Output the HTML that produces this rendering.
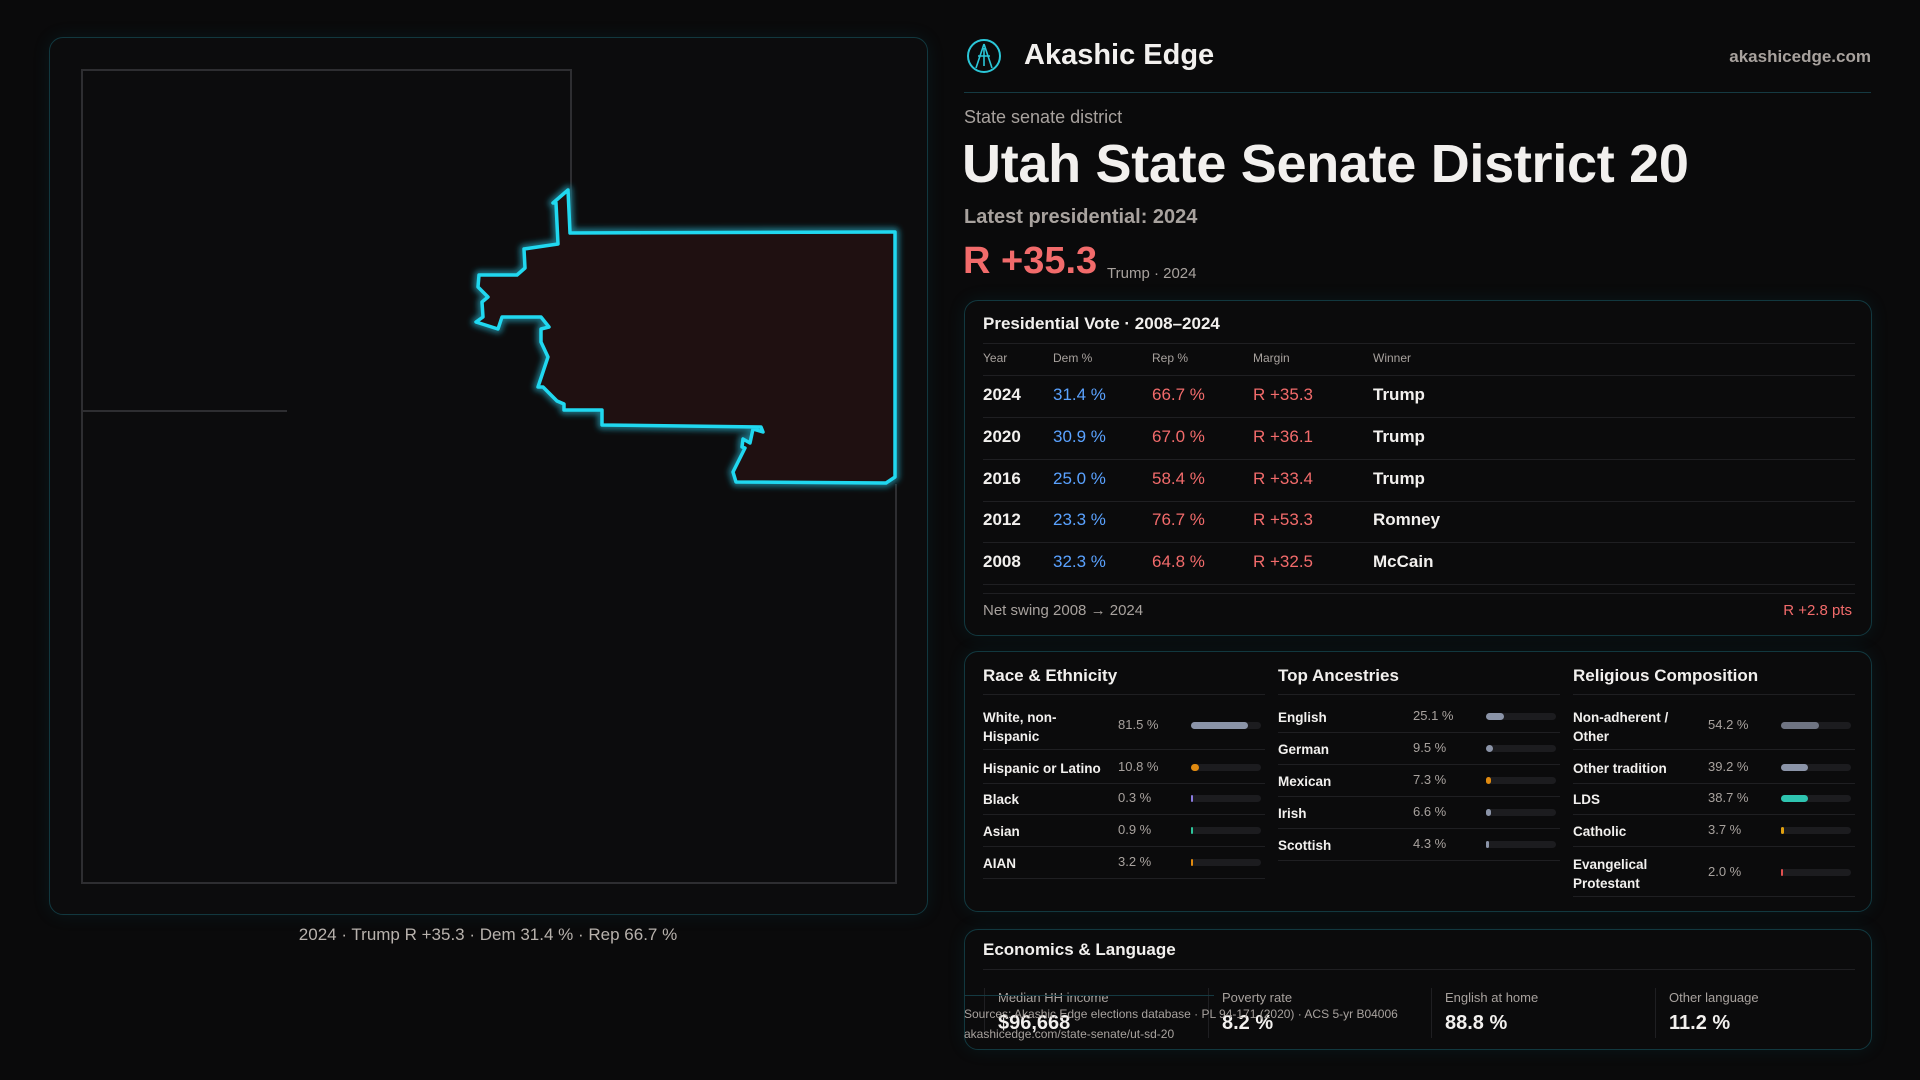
<!DOCTYPE html>
<html><head><meta charset="utf-8">
<style>
*{box-sizing:border-box;margin:0;padding:0}
body{width:1920px;height:1080px;background:#0a0a0b;font-family:"Liberation Sans",sans-serif;color:#f2f0ee;position:relative;overflow:hidden}
.abs{position:absolute;white-space:nowrap}
.card{position:absolute;border:1px solid #12383f;border-radius:14px;background:#0b0b0c;box-shadow:0 0 18px rgba(20,120,140,0.12)}
.muted{color:#a8a29e}
.blue{color:#5aa2ff}.red{color:#f26b6b}
.hr{position:absolute;height:1px;background:#1f1f22}
.bar-bg{position:absolute;height:7px;border-radius:4px;background:#1c1c1f}
.bar{position:absolute;height:7px;border-radius:4px;left:0;top:0}
</style></head><body>
<div class="card" style="left:49px;top:37px;width:879px;height:878px;background:#0c0c0d"></div>
<svg class="abs" style="left:0;top:0" width="960" height="960" viewBox="0 0 960 960">
<g stroke="#2e2e31" stroke-width="2" fill="none">
<polyline points="571,232 571,70 82,70 82,883 896,883 896,484"/>
<line x1="82" y1="411" x2="287" y2="411"/>
</g>
<defs><filter id="gl" x="-10%" y="-10%" width="120%" height="120%"><feGaussianBlur stdDeviation="3"/></filter></defs>
<polygon points="568,190 553,203 556,203 558,244 524,249 525,268 517,275 479,275 478,287 488,297 482,302 483,317 476,322 498,329 502,317 541,317 549,327 541,329 541,342 548,357 538,387 543,387 557,401 564,404 564,410 602,410 602,425 761,427 763,432 753,429 750,443 743,439 742,447 745,448 733,472 736,482 886,483 895,477 895,232 570,233" fill="#1f1011" stroke="#1a6f80" stroke-width="9" stroke-linejoin="round" filter="url(#gl)"/>
<polygon points="568,190 553,203 556,203 558,244 524,249 525,268 517,275 479,275 478,287 488,297 482,302 483,317 476,322 498,329 502,317 541,317 549,327 541,329 541,342 548,357 538,387 543,387 557,401 564,404 564,410 602,410 602,425 761,427 763,432 753,429 750,443 743,439 742,447 745,448 733,472 736,482 886,483 895,477 895,232 570,233" fill="#1f1011" stroke="#20d8f0" stroke-width="3.5" stroke-linejoin="round"/>
</svg>
<div class="abs muted" style="left:0;width:976px;text-align:center;top:925px;font-size:17px;color:#b8b2ad">2024 · Trump R +35.3 · Dem 31.4 % · Rep 66.7 %</div>

<svg class="abs" style="left:966px;top:38px" width="36" height="36" viewBox="0 0 36 36"><circle cx="18" cy="18" r="16" fill="none" stroke="#2bc7d8" stroke-width="2"/><path d="M18 6 L10 30 M18 6 L26 30 M12 18 H24 M18 10 V28" stroke="#2bc7d8" stroke-width="1.6" fill="none"/></svg>
<div class="abs" style="left:1024px;top:39px;font-size:29px;font-weight:bold">Akashic Edge</div>
<div class="abs muted" style="right:49px;top:47px;font-size:17px;font-weight:bold">akashicedge.com</div>
<div class="hr" style="left:964px;width:907px;top:92px;background:#153a42"></div>
<div class="abs muted" style="left:964px;top:107px;font-size:18px">State senate district</div>
<div class="abs" style="left:962px;top:133px;font-size:54px;font-weight:bold;letter-spacing:-0.3px">Utah State Senate District 20</div>
<div class="abs muted" style="left:964px;top:206px;font-size:20px;font-weight:bold">Latest presidential: 2024</div>
<div class="abs red" style="left:963px;top:240px;font-size:38px;font-weight:bold">R +35.3</div>
<div class="abs muted" style="left:1107px;top:265px;font-size:15px">Trump · 2024</div>

<div class="card" style="left:964px;top:300px;width:908px;height:336px"></div>
<div class="abs" style="left:983px;top:314px;font-size:17px;font-weight:bold">Presidential Vote · 2008–2024</div>
<div class="hr" style="left:983px;width:872px;top:343px"></div>
<div id="pres"></div>
<div class="abs muted" style="left:983px;top:602px;font-size:15px">Net swing 2008 → 2024</div>
<div class="abs red" style="right:68px;top:602px;font-size:15px">R +2.8 pts</div>

<div class="card" style="left:964px;top:651px;width:908px;height:261px"></div>
<div id="demo"></div>

<div class="card" style="left:964px;top:929px;width:908px;height:121px"></div>
<div class="abs" style="left:983px;top:940px;font-size:17px;font-weight:bold">Economics &amp; Language</div>
<div class="hr" style="left:983px;width:872px;top:969px"></div>
<div id="econ"></div>
<div class="hr" style="left:964px;width:250px;top:995px;background:#153a42"></div>
<div class="abs muted" style="left:964px;top:1007px;font-size:12px">Sources: Akashic Edge elections database · PL 94-171 (2020) · ACS 5-yr B04006</div>
<div class="abs muted" style="left:964px;top:1027px;font-size:12px">akashicedge.com/state-senate/ut-sd-20</div>

<script>
const years=["2024","2020","2016","2012","2008"];
const demPct=[31.4,30.9,25.0,23.3,32.3];
const repPct=[66.7,67.0,58.4,76.7,64.8];
const margins=[35.3,36.1,33.4,53.3,32.5];
const winners=["Trump","Trump","Trump","Romney","McCain"];
const raceLabels=["White, non-Hispanic","Hispanic or Latino","Black","Asian","AIAN"];
const raceValues=[81.5,10.8,0.3,0.9,3.2];
const ancLabels=["English","German","Mexican","Irish","Scottish"];
const ancValues=[25.1,9.5,7.3,6.6,4.3];
const relLabels=["Non-adherent / Other","Other tradition","LDS","Catholic","Evangelical Protestant"];
const relValues=[54.2,39.2,38.7,3.7,2.0];
const econLabels=["Median HH income","Poverty rate","English at home","Other language"];
const econValues=["$96,668","8.2 %","88.8 %","11.2 %"];

function mk(parent,cls,style,text){const d=document.createElement('div');d.className=cls;d.style.cssText=style;if(text!==undefined)d.textContent=text;parent.appendChild(d);return d;}
const pres=document.getElementById('pres');
const hx=[983,1053,1152,1253,1373];
["Year","Dem %","Rep %","Margin","Winner"].forEach((h,i)=>{
  const e=mk(pres,'abs muted','left:'+hx[i]+'px;top:351px;font-size:12px',h);
  
  
});
const hl=mk(pres,'hr','left:983px;width:872px;top:375px');


years.forEach((y,i)=>{
  const top=385+i*41.8;
  const vals=[y,demPct[i].toFixed(1)+' %',repPct[i].toFixed(1)+' %','R +'+margins[i].toFixed(1),winners[i]];
  const cls=['','blue','red','red',''];
  vals.forEach((v,j)=>{
    const e=mk(pres,'abs '+cls[j],'left:'+hx[j]+'px;top:'+top+'px;font-size:17px;'+(j==0||j==4?'font-weight:bold':''),v);
    
    
  });
  const l=mk(pres,'hr','left:983px;width:872px;top:'+(top+32)+'px');
  
  
});
const l2=mk(pres,'hr','left:983px;width:872px;top:593px');



const demo=document.getElementById('demo');
const cols=[
 {t:"Race & Ethnicity",x:983,labels:raceLabels,vals:raceValues,colors:["#8b94a8","#e08a10","#8a7be0","#2ec49a","#e08a10"],tops:[725,767,798,830,862],two:[true,false,false,false,false]},
 {t:"Top Ancestries",x:1278,labels:ancLabels,vals:ancValues,colors:["#8b94a8","#8b94a8","#e08a10","#8b94a8","#8b94a8"],tops:[716,748,780,812,844],two:[false,false,false,false,false]},
 {t:"Religious Composition",x:1573,labels:relLabels,vals:relValues,colors:["#6f7482","#8b94a8","#2ec4b0","#e0a010","#e05050"],tops:[725,767,798,830,872],two:[true,false,false,false,true]}
];
cols.forEach((c,ci)=>{
  const t=mk(demo,'abs','left:'+c.x+'px;top:666px;font-size:17px;font-weight:bold',c.t);
  
  
  const d=mk(demo,'hr','left:'+c.x+'px;width:282px;top:694px');
  
  
  c.labels.forEach((lab,i)=>{
    const top=c.tops[i];
    const le=mk(demo,'abs','left:'+c.x+'px;top:'+(c.two[i]?top-17:top-8)+'px;font-size:13.5px;font-weight:bold;'+(c.two[i]?'white-space:normal;':'')+'width:'+(ci==0?96:120)+'px;line-height:19px',lab);
    
    
    const ve=mk(demo,'abs muted','left:'+(c.x+135)+'px;top:'+(top-8)+'px;font-size:13px',c.vals[i].toFixed(1)+' %');
    
    
    const bg=mk(demo,'bar-bg','left:'+(c.x+208)+'px;top:'+(top-3)+'px;width:70px');
    
    
    const b=mk(bg,'bar','width:'+Math.max(1.5,c.vals[i]/100*70)+'px;background:'+c.colors[i]);
    
    
    const r=mk(demo,'hr','left:'+c.x+'px;width:282px;top:'+(top+(c.two[i]?24:16))+'px');
    
    
  });
});

const econ=document.getElementById('econ');
const ex=[998,1222,1445,1669];
econLabels.forEach((lab,i)=>{
  const s=mk(econ,'abs','left:'+(ex[i]-14)+'px;top:988px;width:1px;height:50px;background:#1f1f22;');
  
  
  const l=mk(econ,'abs muted','left:'+ex[i]+'px;top:990px;font-size:13px',lab);
  
  
  const v=mk(econ,'abs','left:'+ex[i]+'px;top:1012px;font-size:20px;font-weight:bold',econValues[i]);
  
  
});
</script>
</body></html>
